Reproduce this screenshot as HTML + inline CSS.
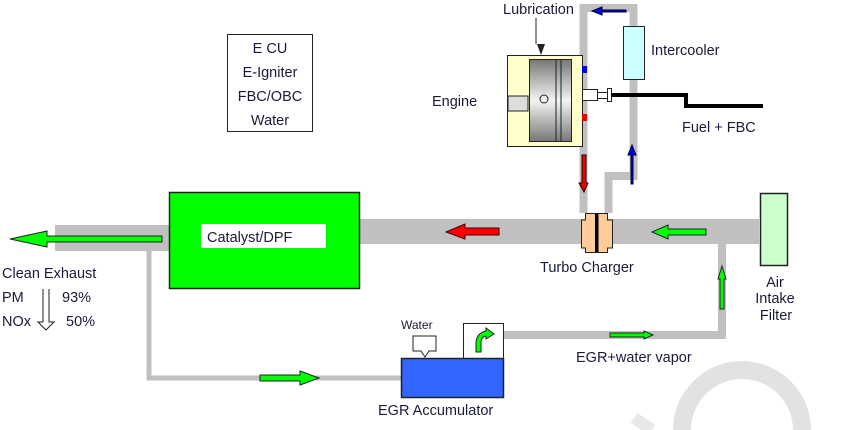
<!DOCTYPE html>
<html><head><meta charset="utf-8"><style>
html,body{margin:0;padding:0;background:#fff;width:850px;height:430px;overflow:hidden}
svg{display:block}
text{font-family:"Liberation Sans",sans-serif;fill:#1a1a3a}
</style></head><body>
<svg width="850" height="430" viewBox="0 0 850 430" xmlns="http://www.w3.org/2000/svg">
<defs>
<linearGradient id="cyl" x1="0" y1="0" x2="0" y2="1">
<stop offset="0" stop-color="#777"/><stop offset="0.5" stop-color="#f4f4f4"/><stop offset="1" stop-color="#777"/>
</linearGradient>
</defs>
<path d="M682 430 A60 60 0 0 1 802 430" fill="none" stroke="#e2e2e2" stroke-width="18"/>
<path d="M634 418 L652 430" stroke="#e8e8e8" stroke-width="12"/>
<rect x="353" y="219" width="406" height="25" fill="#c0c0c0"/>
<rect x="55" y="225" width="115" height="26" fill="#c0c0c0"/>
<path d="M149 251 V378 H402" fill="none" stroke="#c0c0c0" stroke-width="5"/>
<path d="M503 335 H722 V244" fill="none" stroke="#c0c0c0" stroke-width="8"/>
<path d="M583.5 213 V8 H633.5 V176 H608.5 V213" fill="none" stroke="#c0c0c0" stroke-width="8"/>
<rect x="227.5" y="34.5" width="85" height="97" fill="#fff" stroke="#222"/>
<g font-size="14.5" text-anchor="middle">
<text x="270" y="53">E CU</text><text x="270" y="77">E-Igniter</text>
<text x="270" y="101">FBC/OBC</text><text x="270" y="125">Water</text></g>
<rect x="169.5" y="192.5" width="190" height="96" fill="#00ff00" stroke="#222" stroke-width="1.5"/>
<rect x="201" y="224" width="125" height="24" fill="#fff"/>
<text x="207" y="242" font-size="14.5">Catalyst/DPF</text>
<path d="M162 236 V242 H47 V247 L10 239 L47 231 V236 Z" fill="#00ff00" stroke="#222"/>
<text x="2" y="278" font-size="14.5">Clean Exhaust</text>
<text x="2" y="302" font-size="14.5">PM</text><text x="62" y="302" font-size="14.5">93%</text>
<text x="2" y="326" font-size="14.5">NOx</text><text x="66" y="326" font-size="14.5">50%</text>
<path d="M43 289 V322 H38 L46 330 L54 322 H49 V289" fill="#fff" stroke="#222"/>
<rect x="507.5" y="55.5" width="75" height="91" fill="#ffffcc" stroke="#222"/>
<rect x="529.5" y="59.5" width="42" height="82" fill="url(#cyl)" stroke="#222"/>
<line x1="556" y1="60" x2="556" y2="141" stroke="#222"/>
<line x1="561" y1="60" x2="561" y2="141" stroke="#222"/>
<circle cx="544" cy="99" r="4" fill="none" stroke="#222"/>
<rect x="508" y="96" width="20" height="15" fill="#ddd" stroke="#222"/>
<path d="M537 44 H545 L541 55 Z" fill="#222"/>
<path d="M536 18 V44" stroke="#222"/>
<rect x="582" y="66" width="5" height="7" fill="#0000ee"/>
<rect x="582" y="114" width="5" height="7" fill="#ee0000"/>
<rect x="582.5" y="89.5" width="15" height="11" fill="#fff" stroke="#222"/>
<rect x="597.5" y="92.5" width="10" height="6" fill="#fff" stroke="#222"/>
<rect x="607.5" y="88.5" width="4" height="13" fill="#fff" stroke="#222"/>
<path d="M611 95 H686 V106 H763" fill="none" stroke="#000" stroke-width="4"/>
<text x="503" y="14" font-size="14.5">Lubrication</text>
<text x="432" y="106" font-size="14.5">Engine</text>
<text x="682" y="132" font-size="14.5">Fuel + FBC</text>
<rect x="623.5" y="26.5" width="21" height="53" fill="#ccffff" stroke="#222"/>
<text x="651" y="55" font-size="14.5">Intercooler</text>
<path d="M626 10 H602 V7 L592 11 L602 15 V12 H626 Z" fill="#0000ee" stroke="#002"/>
<path d="M631 184 V155 H628 L632 145 L636 155 H633 V184 Z" fill="#0000ee" stroke="#002"/>
<path d="M582 155 V183 H579 L584 192 L588 183 H586 V155 Z" fill="#ee0000" stroke="#200"/>
<path d="M585.5 213.5 H607.5 V220 H612.5 V248 H607.5 V252.5 H585.5 V248 H581.5 V220 H585.5 Z" fill="#ffcc99" stroke="#222"/>
<rect x="595" y="214" width="3.5" height="38" fill="#000"/>
<text x="540" y="272" font-size="14.5">Turbo Charger</text>
<path d="M499 228 H465 V224 L446 232 L465 239 V235 H499 Z" fill="#ff0000" stroke="#400"/>
<path d="M706 229 H668 V225 L652 232 L668 239 V235 H706 Z" fill="#00ff00" stroke="#222"/>
<rect x="760.5" y="193.5" width="27" height="72" fill="#ccffcc" stroke="#222" stroke-width="1.5"/>
<g font-size="14.5" text-anchor="middle"><text x="775" y="287">Air</text><text x="775" y="303">Intake</text><text x="776" y="320">Filter</text></g>
<path d="M720 309 V279 H718 L722 266 L726 279 H724 V309 Z" fill="#00ff00" stroke="#222"/>
<path d="M610 333 H644 V331 L653 335 L644 339 V337 H610 Z" fill="#00ff00" stroke="#222"/>
<text x="576" y="362" font-size="14.5">EGR+water vapor</text>
<rect x="463.5" y="323.5" width="40" height="35" fill="#fff" stroke="#222"/>
<path d="M476 352 V342 Q477 333 486 331 V328 L494 334 L486 339 V336 Q481 337 481 343 V352 Z" fill="#00ff00" stroke="#222"/>
<rect x="401.5" y="358.5" width="102" height="39" fill="#3366ff" stroke="#222" stroke-width="1.5"/>
<path d="M413 336 H436 V351 H429 L425 357 L421 351 H413 Z" fill="#fff" stroke="#222"/>
<text x="401" y="329" font-size="12">Water</text>
<text x="378" y="415" font-size="14.5">EGR Accumulator</text>
<path d="M260 375 H300 V371 L319 378 L300 385 V381 H260 Z" fill="#00ff00" stroke="#222"/>
</svg>
</body></html>
